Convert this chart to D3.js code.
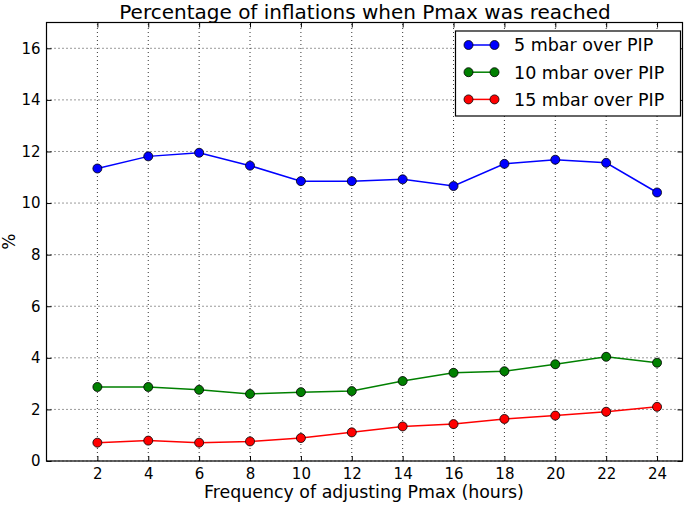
<!DOCTYPE html>
<html>
<head>
<meta charset="utf-8">
<script src="https://cdn.jsdelivr.net/npm/d3@7"></script>
<style>
 body { margin: 0; background: #fff; }
 text { font-family: "DejaVu Sans", sans-serif; fill: #000; }
</style>
</head>
<body>
<div id="chart"></div>
<script>
 // data
 const hours = [2, 4, 6, 8, 10, 12, 14, 16, 18, 20, 22, 24];
 const mbar5 = [11.34, 11.81, 11.95, 11.45, 10.85, 10.85, 10.92, 10.66, 11.52, 11.68, 11.56, 10.41];
 const mbar10 = [2.87, 2.87, 2.76, 2.60, 2.67, 2.71, 3.10, 3.42, 3.48, 3.75, 4.04, 3.81];
 const mbar15 = [0.71, 0.79, 0.71, 0.76, 0.89, 1.11, 1.34, 1.43, 1.63, 1.76, 1.91, 2.10];
 const seriesNames = ["5 mbar over PIP", "10 mbar over PIP", "15 mbar over PIP"];
 const seriesColors = ["#0000ff", "#008000", "#ff0000"];
 const yTicks = [0, 2, 4, 6, 8, 10, 12, 14, 16];

 const width = 685;
 const height = 505;
 const margin = {top: 22.5, right: 2.5, bottom: 44, left: 46.5};

 const svg = d3.select("#chart")
     .append("svg")
     .attr("width", width)
     .attr("height", height);

 const x = d3.scaleLinear().domain([0, 25]).range([margin.left, width - margin.right]);
 const y = d3.scaleLinear().domain([0, 17]).range([height - margin.bottom, margin.top]);

 // grid
 svg.append("g")
     .selectAll("line")
     .data(hours)
     .enter().append("line")
     .attr("x1", d => x(d)).attr("x2", d => x(d))
     .attr("y1", y(0)).attr("y2", y(17))
     .attr("stroke", "#000").attr("stroke-width", 0.8)
     .attr("stroke-dasharray", "1,3");

 svg.append("g")
     .selectAll("line")
     .data(yTicks)
     .enter().append("line")
     .attr("x1", x(0)).attr("x2", x(25))
     .attr("y1", d => y(d)).attr("y2", d => y(d))
     .attr("stroke", "#000").attr("stroke-width", 0.8)
     .attr("stroke-dasharray", "1,3");

 // axes, ticks pointing inward
 const xAxisB = d3.axisBottom(x).tickValues(hours).tickSize(-5).tickPadding(7);
 const xAxisT = d3.axisTop(x).tickValues(hours).tickSize(-5).tickFormat("");
 const yAxisL = d3.axisLeft(y).tickValues(yTicks).tickSize(-5).tickPadding(6);
 const yAxisR = d3.axisRight(y).tickValues(yTicks).tickSize(-5).tickFormat("");

 function styleAxis(g) {
     g.select(".domain").remove();
     g.selectAll("line").attr("stroke", "#000");
     g.selectAll("text").style("font-size", "15px").style("font-family", "DejaVu Sans, sans-serif");
 }

 svg.append("g").attr("transform", `translate(0,${y(0)})`).call(xAxisB).call(styleAxis);
 svg.append("g").attr("transform", `translate(0,${y(17)})`).call(xAxisT).call(styleAxis);
 svg.append("g").attr("transform", `translate(${x(0)},0)`).call(yAxisL).call(styleAxis);
 svg.append("g").attr("transform", `translate(${x(25)},0)`).call(yAxisR).call(styleAxis);

 // series
 const allSeries = [mbar5, mbar10, mbar15];
 const line = d3.line().x((d, i) => x(hours[i])).y(d => y(d));

 allSeries.forEach((vals, k) => {
     svg.append("path")
         .datum(vals)
         .attr("d", line)
         .attr("fill", "none")
         .attr("stroke", seriesColors[k])
         .attr("stroke-width", 1.5);
     svg.append("g")
         .selectAll("circle")
         .data(vals)
         .enter().append("circle")
         .attr("cx", (d, i) => x(hours[i]))
         .attr("cy", d => y(d))
         .attr("r", 4.5)
         .attr("fill", seriesColors[k])
         .attr("stroke", "#000")
         .attr("stroke-width", 0.8);
 });

 // frame
 svg.append("rect")
     .attr("x", x(0)).attr("y", y(17))
     .attr("width", x(25) - x(0)).attr("height", y(0) - y(17))
     .attr("fill", "none").attr("stroke", "#000").attr("stroke-width", 1.2);

 // legend
 const legend = svg.append("g");
 legend.append("rect")
     .attr("x", 455.5).attr("y", 31)
     .attr("width", 225).attr("height", 85)
     .attr("fill", "#fff").attr("stroke", "#000").attr("stroke-width", 1.2);

 seriesNames.forEach((name, k) => {
     const ly = 45 + k * 27.2;
     legend.append("line")
         .attr("x1", 468.5).attr("x2", 494.5)
         .attr("y1", ly).attr("y2", ly)
         .attr("stroke", seriesColors[k]).attr("stroke-width", 1.5);
     [468.5, 494.5].forEach(cx => {
         legend.append("circle")
             .attr("cx", cx).attr("cy", ly).attr("r", 4.5)
             .attr("fill", seriesColors[k])
             .attr("stroke", "#000").attr("stroke-width", 0.8);
     });
     legend.append("text")
         .attr("x", 514).attr("y", ly + 6.3)
         .style("font-size", "17.5px")
         .text(name);
 });

 // titles
 svg.append("text")
     .attr("x", (x(0) + x(25)) / 2 + 0.5).attr("y", 18.6)
     .attr("text-anchor", "middle")
     .style("font-size", "20px")
     .text("Percentage of inflations when Pmax was reached");

 svg.append("text")
     .attr("x", 204).attr("y", 498)
     .style("font-size", "17.4px")
     .text("Frequency of adjusting Pmax (hours)");

 svg.append("text")
     .attr("transform", `translate(15,${(y(0) + y(17)) / 2}) rotate(-90)`)
     .attr("text-anchor", "middle")
     .style("font-size", "17px")
     .text("%");
</script>
</body>
</html>
